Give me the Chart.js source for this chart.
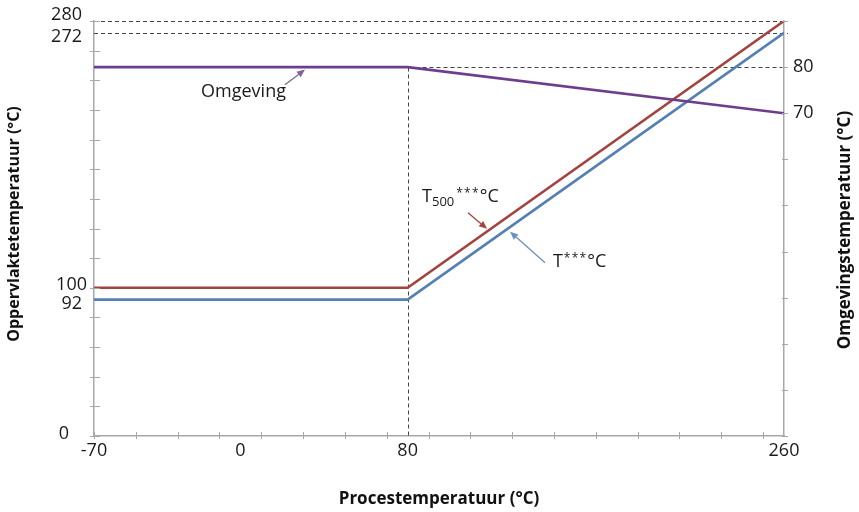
<!DOCTYPE html>
<html><head><meta charset="utf-8">
<script src="https://cdn.jsdelivr.net/npm/chart.js@4.4.0/dist/chart.umd.min.js"></script>
<style>html,body{margin:0;padding:0;background:#fff}#wrap{width:859px;height:512px;position:relative}</style>
</head><body><div id="wrap"><canvas id="c" width="859" height="512"></canvas></div>
<script>
// ---- data ----
const procesTemp = [-70, 80, 260];
const t500 = [100, 100, 280];
const tSurface = [92, 92, 272];
const ambient = [80, 80, 70];
const xTickLabels = [-70, 0, 80, 260];
const yTickLabels = [0, 92, 100, 272, 280];
const y2TickLabels = [70, 80];
const xMinorTicks = [-70, -50, -30, -10, 10, 30, 50, 70, 90, 110, 130, 150, 170, 190, 210, 230, 250];
const yMinorTicks = [0, 20, 40, 60, 80, 100, 120, 140, 160, 180, 200, 220, 240, 260, 280];
const y2MinorTicks = [0, 10, 20, 30, 40, 50, 60, 70, 80, 90];

const FONT = "'Open Sans', 'Noto Sans', sans-serif";
const TXT = '#1a1a1a';
const AXIS = '#a8a8a8';
const RED = '#a4423e', BLUE = '#5480b4', PURPLE = '#6e3d8e';

function pts(xs, ys){ return xs.map((x,i)=>({x:x, y:ys[i]})); }

// annotation placement in data units (x: process temp, y: left axis)
const notes = {
  omgeving: {x:-18.8, y:229},
  omgArrow: {x1:21.3, y1:237, x2:30.9, y2:247.2},
  t500: {x:86.9, y:158},
  redArrow: {x1:108.9, y1:150.6, x2:118, y2:139.8},
  tSurf: {x:149.5, y:114.2},
  blueArrow: {x1:145.7, y1:116.9, x2:129, y2:137.8}
};
// small label nudges (px) so the close left-axis labels do not collide, as in the original
const leftLabelNudge = {0:{dx:-13, dy:-2}, 92:{dx:0, dy:4}, 100:{dx:5, dy:-3}, 272:{dx:0, dy:4.5}, 280:{dx:0, dy:-6}};

function arrow(ctx,x1,y1,x2,y2,color){
  ctx.save();
  ctx.strokeStyle=color; ctx.fillStyle=color; ctx.lineWidth=1.3; ctx.setLineDash([]);
  const a=Math.atan2(y2-y1,x2-x1), L=8, W=3.5;
  const bx=x2-L*Math.cos(a), by=y2-L*Math.sin(a);
  ctx.beginPath(); ctx.moveTo(x1,y1); ctx.lineTo(bx,by); ctx.stroke();
  ctx.beginPath(); ctx.moveTo(x2,y2);
  ctx.lineTo(bx+W*Math.sin(a), by-W*Math.cos(a));
  ctx.lineTo(bx-W*Math.sin(a), by+W*Math.cos(a));
  ctx.closePath(); ctx.fill();
  ctx.restore();
}

function labelT(ctx, x, y, sub){
  ctx.save();
  ctx.fillStyle=TXT; ctx.textBaseline='alphabetic'; ctx.textAlign='left';
  ctx.font = '18px '+FONT;
  ctx.fillText('T', x, y);
  let cx = x + ctx.measureText('T').width;
  if(sub){
    ctx.font = '13px '+FONT;
    ctx.fillText(sub, cx, y+4);
    cx += ctx.measureText(sub).width + 2;
  } else { cx += 1; }
  ctx.font = '12px '+FONT;
  for(let i=0;i<3;i++){ ctx.fillText('*', cx, y-5); cx += 7.8; }
  ctx.font = '18px '+FONT;
  ctx.fillText('°C', cx, y);
  ctx.restore();
}

const deco = {
  id:'deco',
  beforeDatasetsDraw(chart){
    const ctx=chart.ctx, xs=chart.scales.x, ys=chart.scales.y, y2=chart.scales.y2;
    ctx.save();
    ctx.strokeStyle='#444'; ctx.lineWidth=1; ctx.setLineDash([4,3]);
    const right = xs.right+4;
    [t500[2], tSurface[2]].forEach(v=>{
      const py=Math.round(ys.getPixelForValue(v))+0.5;
      ctx.beginPath(); ctx.moveTo(xs.left, py); ctx.lineTo(right, py); ctx.stroke();
    });
    const pa=Math.round(y2.getPixelForValue(ambient[1]))+0.5;
    const px=Math.round(xs.getPixelForValue(procesTemp[1]))+0.5;
    ctx.beginPath(); ctx.moveTo(px, pa); ctx.lineTo(right, pa); ctx.stroke();
    ctx.beginPath(); ctx.moveTo(px, pa); ctx.lineTo(px, xs.top); ctx.stroke();
    ctx.restore();
  },
  afterDraw(chart){
    const ctx=chart.ctx, xs=chart.scales.x, ys=chart.scales.y, y2=chart.scales.y2;
    ctx.save();
    ctx.strokeStyle=AXIS; ctx.lineWidth=1; ctx.setLineDash([]);
    xMinorTicks.forEach(v=>{
      const p=Math.round(xs.getPixelForValue(v))+0.5;
      ctx.beginPath(); ctx.moveTo(p, xs.top-4); ctx.lineTo(p, xs.top+3); ctx.stroke();
    });
    yMinorTicks.forEach(v=>{
      const p=Math.round(ys.getPixelForValue(v))+0.5;
      ctx.beginPath(); ctx.moveTo(ys.right-4, p); ctx.lineTo(ys.right+6, p); ctx.stroke();
    });
    y2MinorTicks.forEach(v=>{
      const p=Math.round(y2.getPixelForValue(v))+0.5;
      ctx.beginPath(); ctx.moveTo(y2.left-2, p); ctx.lineTo(y2.left+4, p); ctx.stroke();
    });
    ctx.restore();

    // left axis tick labels (positioned with the y scale)
    ctx.save();
    ctx.fillStyle=TXT; ctx.font='18px '+FONT; ctx.textAlign='right'; ctx.textBaseline='middle';
    yTickLabels.forEach(v=>{
      const n=leftLabelNudge[v]||{dx:0,dy:0};
      ctx.fillText(String(v), ys.right-12+n.dx, ys.getPixelForValue(v)+n.dy);
    });
    ctx.restore();

    // annotations
    const X=v=>xs.getPixelForValue(v), Y=v=>ys.getPixelForValue(v);
    ctx.save();
    ctx.fillStyle=TXT; ctx.font='18px '+FONT; ctx.textBaseline='alphabetic'; ctx.textAlign='left';
    ctx.fillText('Omgeving', X(notes.omgeving.x), Y(notes.omgeving.y));
    ctx.restore();
    const a1=notes.omgArrow; arrow(ctx, X(a1.x1),Y(a1.y1),X(a1.x2),Y(a1.y2), '#7d6499');
    labelT(ctx, X(notes.t500.x), Y(notes.t500.y), '500');
    const a2=notes.redArrow; arrow(ctx, X(a2.x1),Y(a2.y1),X(a2.x2),Y(a2.y2), RED);
    labelT(ctx, X(notes.tSurf.x), Y(notes.tSurf.y), null);
    const a3=notes.blueArrow; arrow(ctx, X(a3.x1),Y(a3.y1),X(a3.x2),Y(a3.y2), '#6d8fbd');

    // axis titles
    ctx.save();
    ctx.fillStyle='#111'; ctx.font='bold 17px '+FONT; ctx.textAlign='center'; ctx.textBaseline='middle';
    ctx.fillText('Procestemperatuur (°C)', (xs.left+xs.right)/2, 499);
    ctx.restore();
    ctx.save();
    ctx.fillStyle='#111'; ctx.font='bold 16px '+FONT; ctx.textAlign='center'; ctx.textBaseline='middle';
    ctx.translate(14, 224); ctx.rotate(-Math.PI/2);
    ctx.fillText('Oppervlaktetemperatuur (°C)', 0, 0);
    ctx.restore();
    ctx.save();
    ctx.fillStyle='#111'; ctx.font='bold 17px '+FONT; ctx.textAlign='center'; ctx.textBaseline='middle';
    ctx.translate(845, 230); ctx.rotate(-Math.PI/2);
    ctx.fillText('Omgevingstemperatuur (°C)', 0, 0);
    ctx.restore();
  }
};

const tickFont = {family: FONT, size: 18};

new Chart(document.getElementById('c'), {
  type: 'line',
  data: {
    datasets: [
      {label:'Omgeving', data: pts(procesTemp, ambient), yAxisID:'y2', borderColor: PURPLE},
      {label:'T500', data: pts(procesTemp, t500), yAxisID:'y', borderColor: RED},
      {label:'T', data: pts(procesTemp, tSurface), yAxisID:'y', borderColor: BLUE}
    ]
  },
  options: {
    responsive:false, animation:false, devicePixelRatio:1,
    layout:{padding:{top:21, left:0, right:0, bottom:0}},
    plugins:{legend:{display:false}, tooltip:{enabled:false}},
    elements:{point:{radius:0}, line:{borderWidth:2.6, tension:0, fill:false}},
    scales:{
      x:{type:'linear', min:-70, max:260,
        grid:{display:false, drawTicks:false, tickLength:0}, border:{display:true, color:AXIS, width:1.5},
        afterBuildTicks: s=>{ s.ticks = xTickLabels.map(v=>({value:v})); },
        ticks:{autoSkip:false, maxRotation:0, padding:4, color:TXT, font:tickFont},
        afterFit: s=>{ s.height = 76; }
      },
      y:{type:'linear', position:'left', min:0, max:280,
        grid:{display:false, drawTicks:false, tickLength:0}, border:{display:true, color:AXIS, width:1.5},
        afterBuildTicks: s=>{ s.ticks = yTickLabels.map(v=>({value:v})); },
        ticks:{display:false},
        afterFit: s=>{ s.width = 94; }
      },
      y2:{type:'linear', position:'right', min:0, max:90,
        grid:{display:false, drawTicks:false, tickLength:0}, border:{display:true, color:AXIS, width:1.5},
        afterBuildTicks: s=>{ s.ticks = y2TickLabels.map(v=>({value:v})); },
        ticks:{autoSkip:false, padding:9, color:TXT, font:tickFont},
        afterFit: s=>{ s.width = 75; }
      }
    }
  },
  plugins:[deco]
});
</script></body></html>
